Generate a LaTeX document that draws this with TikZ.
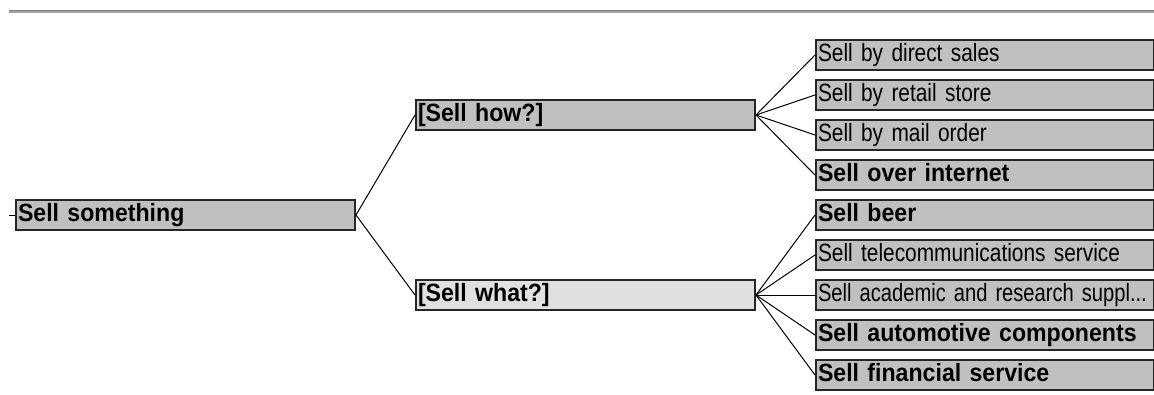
\documentclass[tikz,border=0pt]{standalone}
\usepackage{fontspec}
\setmainfont{Liberation Sans}[FakeStretch=0.835, BoldFeatures={FakeStretch=0.925}]
\definecolor{boxgray}{HTML}{C0C0C0}
\definecolor{boxlight}{HTML}{E0E0E0}
\definecolor{ruledark}{HTML}{808080}
\definecolor{rulelight}{HTML}{A8A49A}
\tikzset{goal/.style={draw=black!85, line width=2pt, fill=boxgray, anchor=west,
    minimum width=338pt, minimum height=30pt, text width=334pt, align=left,
    inner xsep=2pt, inner ysep=0pt, text height=18pt, text depth=5pt,
    font=\fontsize{25}{25}\selectfont},
  link/.style={line width=1pt, black}}

\begin{document}
\begin{tikzpicture}[x=1pt,y=-1pt]
\useasboundingbox (0,0) rectangle (1154,394);
% rule at the top
\draw[ruledark, line width=1pt] (9,10.5) -- (1154,10.5);
\draw[rulelight, line width=2pt] (9,12) -- (1154,12);

\node[goal, minimum width=339pt, text width=335pt] (root) at (15,215) {\bfseries Sell something};
\node[goal, minimum width=339pt, text width=335pt] (how) at (415,115) {\bfseries [Sell how?]};
\node[goal, minimum width=339pt, text width=335pt, fill=boxlight] (what) at (415,295) {\bfseries [Sell what?]};

\node[goal] (direct) at (815,55) {Sell by direct sales};
\node[goal] (retail) at (815,95) {Sell by retail store};
\node[goal] (mail) at (815,135) {Sell by mail order};
\node[goal] (internet) at (815,175) {\bfseries Sell over internet};
\node[goal] (beer) at (815,215) {\bfseries Sell beer};
\node[goal] (telecom) at (815,255) {Sell telecommunications service};
\node[goal] (academic) at (815,295) {\scalebox{0.965}[1]{Sell academic and research suppl...}};
\node[goal] (auto) at (815,335) {\bfseries Sell automotive components};
\node[goal] (finance) at (815,375) {\bfseries Sell financial service};

\coordinate (stub) at (9,215);
\draw[link] (stub) -- (root.west);
\draw[link] (root.east) -- (how.west);
\draw[link] (root.east) -- (what.west);
\foreach \n in {direct, retail, mail, internet}
  \draw[link] (how.east) -- (\n.west);
\foreach \n in {beer, telecom, academic, auto, finance}
  \draw[link] (what.east) -- (\n.west);
\end{tikzpicture}
\end{document}
